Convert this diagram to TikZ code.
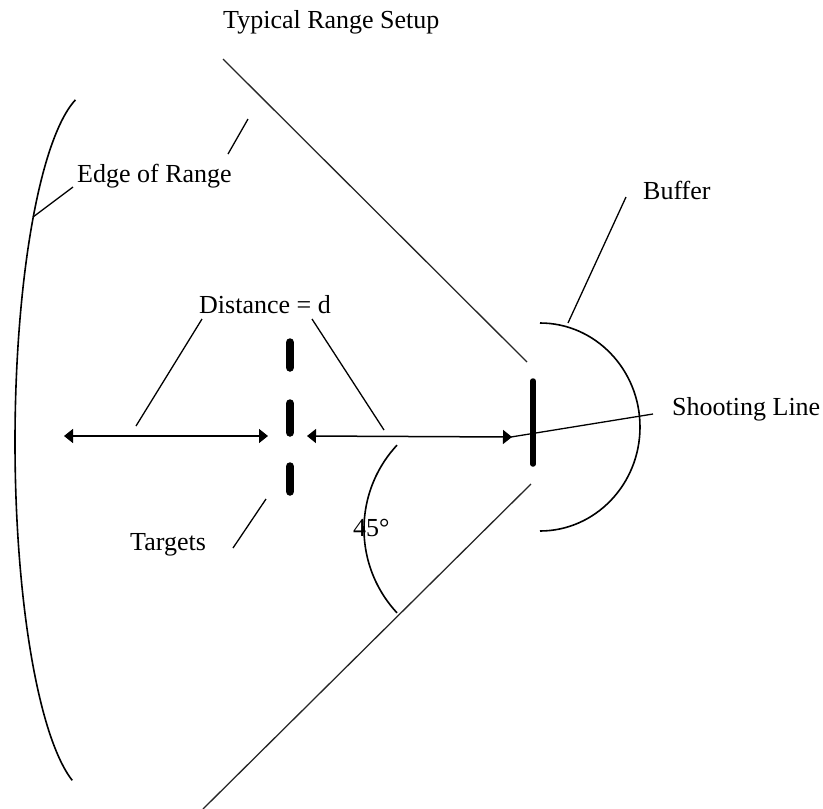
\documentclass[tikz,border=0pt]{standalone}
\usepackage{fontspec}
\setmainfont{Liberation Serif}
\usetikzlibrary{arrows.meta}
\begin{document}
\begin{tikzpicture}[x=1pt,y=-1pt,
  lbl/.style={anchor=base west,inner sep=0pt,font=\fontsize{26}{30}\selectfont},
  leader/.style={line width=1.3pt},
  rangeline/.style={line width=1.3pt,black!85},
  arcline/.style={line width=1.6pt},
  bar/.style={line width=8.5pt,line cap=round},
  sbar/.style={line width=5.5pt,line cap=round},
  dimarrow/.style={line width=1.5pt,{Triangle[length=9pt,width=14pt]}-{Triangle[length=9pt,width=14pt]}}]
\useasboundingbox (0,0) rectangle (823,809);
% texts
\node[lbl] (title) at (223,28) {Typical Range Setup};
\node[lbl] (edge) at (77,182) {Edge of Range};
\node[lbl] (buffer) at (643,199) {Buffer};
\node[lbl] (dist) at (199,313) {Distance = d};
\node[lbl] (shoot) at (672,415) {Shooting Line};
\node[lbl] (targets) at (130,550) {Targets};
\node[lbl] (deg) at (353,536) {45°};
% range boundaries
\coordinate (u1) at (223,59); \coordinate (u2) at (527,362);
\coordinate (l1) at (531,484); \coordinate (l2) at (203,809);
\draw[rangeline] (u1) -- (u2);
\draw[rangeline] (l1) -- (l2);
% edge of range arc (elliptical)
\draw[arcline] plot[domain=103.6:254,samples=120,smooth] ({94+79*cos(\x)},{442-352*sin(\x)});
% 45 degree arc (circular)
\draw[arcline] plot[domain=137:223,samples=60,smooth] ({487+123*cos(\x)},{529-123*sin(\x)});
% buffer half ellipse
\draw[arcline] (540,323) .. controls (595.2,323) and (640,369.6) .. (640,427)
  .. controls (640,484.4) and (595.2,531) .. (540,531);
% targets and shooting line
\coordinate (t1a) at (290,342.5); \coordinate (t1b) at (290,367.5);
\coordinate (t2a) at (290,403.5); \coordinate (t2b) at (290,432.5);
\coordinate (t3a) at (290,466.5); \coordinate (t3b) at (290,491.5);
\draw[bar] (t1a) -- (t1b);
\draw[bar] (t2a) -- (t2b);
\draw[bar] (t3a) -- (t3b);
\coordinate (s1) at (533,381); \coordinate (s2) at (533,464);
\draw[sbar] (s1) -- (s2);
% distance arrows
\coordinate (a1) at (64,436); \coordinate (a2) at (268,436);
\coordinate (a3) at (307,436); \coordinate (a4) at (512,437);
\draw[dimarrow] (a1) -- (a2);
\draw[dimarrow] (a3) -- (a4);
% leaders
\coordinate (e1) at (33,217); \coordinate (e2) at (73,187);
\coordinate (e3) at (228,154); \coordinate (e4) at (248,119);
\draw[leader] (e1) -- (e2);
\draw[leader] (e3) -- (e4);
\coordinate (b1) at (568,323); \coordinate (b2) at (626,197);
\draw[leader] (b1) -- (b2);
\coordinate (d1) at (202,319); \coordinate (d2) at (136,426);
\coordinate (d3) at (312,319); \coordinate (d4) at (384,430);
\draw[leader] (d1) -- (d2);
\draw[leader] (d3) -- (d4);
\coordinate (g1) at (266,499); \coordinate (g2) at (233,548);
\draw[leader] (g1) -- (g2);
\coordinate (h1) at (511,437); \coordinate (h2) at (653,414);
\draw[leader] (h1) -- (h2);
\end{tikzpicture}
\end{document}
